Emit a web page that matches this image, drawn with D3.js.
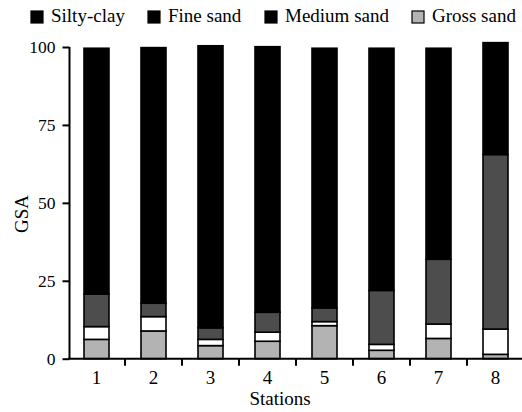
<!DOCTYPE html>
<html>
<head>
<meta charset="utf-8">
<script src="https://cdn.jsdelivr.net/npm/d3@7"></script>
<style>
  html, body { margin: 0; padding: 0; background: #fff; }
  svg { display: block; }
  svg text { font-family: "Liberation Serif", "Times New Roman", "DejaVu Serif", serif; }
</style>
</head>
<body>
<svg id="chart" width="522" height="412"></svg>
<script>
// Grain size analysis by station (percent), stacked bottom to top
const stations = ["1", "2", "3", "4", "5", "6", "7", "8"];
const grossSand  = [6.2, 8.9, 4.2, 5.6, 10.6, 2.7, 6.5, 1.4];
const mediumSand = [4.1, 4.6, 2.0, 2.9, 1.3, 1.9, 4.6, 8.1];
const fineSand   = [10.4, 4.3, 3.7, 6.4, 4.4, 17.3, 20.8, 56.0];
const siltyClay  = [78.9, 82.0, 90.5, 85.2, 83.3, 77.7, 67.7, 35.9];
const yTicks = [0, 25, 50, 75, 100];

const FONT = "'Liberation Serif', 'Times New Roman', serif";

const layers = [
  { key: "gross",  name: "Gross sand",  values: grossSand,  fill: "#b3b3b3", legendFill: "#b3b3b3" },
  { key: "medium", name: "Medium sand", values: mediumSand, fill: "#ffffff", legendFill: "#000000" },
  { key: "fine",   name: "Fine sand",   values: fineSand,   fill: "#4d4d4d", legendFill: "#000000" },
  { key: "silty",  name: "Silty-clay",  values: siltyClay,  fill: "#000000", legendFill: "#000000" }
];

const rows = stations.map((s, i) => {
  const r = { station: s };
  layers.forEach(l => { r[l.key] = l.values[i]; });
  return r;
});

const svg = d3.select("#chart");
const x0 = 68, x1 = 524, yTop = 47, yBase = 358.7;

const x = d3.scaleBand().domain(stations).range([x0, x1]).paddingInner(0).paddingOuter(0);
const y = d3.scaleLinear().domain([0, 100]).range([yBase, yTop]);

const stack = d3.stack().keys(layers.map(l => l.key));
const series = stack(rows);
const barW = 25;

const g = svg.append("g");
series.forEach((ser, li) => {
  g.selectAll(null)
    .data(ser)
    .enter()
    .append("rect")
    .attr("x", d => x(d.data.station) + x.bandwidth() / 2 - barW / 2)
    .attr("width", barW)
    .attr("y", d => y(d[1]))
    .attr("height", d => y(d[0]) - y(d[1]))
    .attr("fill", layers[li].fill)
    .attr("stroke", "#000")
    .attr("stroke-width", 1.6);
});

// Y axis
const yAxis = d3.axisLeft(y).tickValues(yTicks).tickSize(7).tickPadding(7).tickSizeOuter(0);
const yg = svg.append("g").attr("transform", `translate(${x0 + 1.5},0)`).call(yAxis)
  .attr("font-family", FONT).attr("font-size", 17.5);
yg.select(".domain").attr("stroke", "#000").attr("stroke-width", 2)
  .attr("d", `M0,${yTop}V${yBase}`);
yg.selectAll(".tick line").attr("stroke", "#000").attr("stroke-width", 2);
yg.selectAll(".tick text").attr("fill", "#000");

// X axis: ticks sit on band boundaries, labels at band centres
const xg = svg.append("g").attr("transform", `translate(0,${yBase})`)
  .attr("font-family", FONT).attr("font-size", 19);
xg.append("line").attr("x1", x0).attr("x2", 522).attr("y1", 0).attr("y2", 0)
  .attr("stroke", "#000").attr("stroke-width", 2);
const boundaries = stations.map(s => x(s) + x.bandwidth()).slice(0, -1);
xg.selectAll("line.tk").data(boundaries).enter().append("line")
  .attr("class", "tk")
  .attr("x1", d => d).attr("x2", d => d).attr("y1", 0).attr("y2", 7)
  .attr("stroke", "#000").attr("stroke-width", 2);
xg.selectAll("text").data(stations).enter().append("text")
  .attr("x", d => x(d) + x.bandwidth() / 2)
  .attr("y", 25.5)
  .attr("text-anchor", "middle")
  .text(d => d);

svg.append("text").attr("x", 280).attr("y", 405).attr("text-anchor", "middle")
  .attr("font-family", FONT).attr("font-size", 19).text("Stations");

svg.append("text")
  .attr("transform", "translate(28,214) rotate(-90)")
  .attr("text-anchor", "middle")
  .attr("font-family", FONT).attr("font-size", 19)
  .text("GSA");

// Legend (top row)
const legendItems = [layers[3], layers[2], layers[1], layers[0]];
const legendX = [31, 148, 265, 412];
const lg = svg.append("g");
legendItems.forEach((l, i) => {
  lg.append("rect").attr("x", legendX[i]).attr("y", 11).attr("width", 12).attr("height", 12)
    .attr("fill", l.legendFill).attr("stroke", "#000").attr("stroke-width", 1.2);
  lg.append("text").attr("x", legendX[i] + 20).attr("y", 22)
    .attr("font-family", FONT).attr("font-size", 19).text(l.name);
});
</script>
</body>
</html>
